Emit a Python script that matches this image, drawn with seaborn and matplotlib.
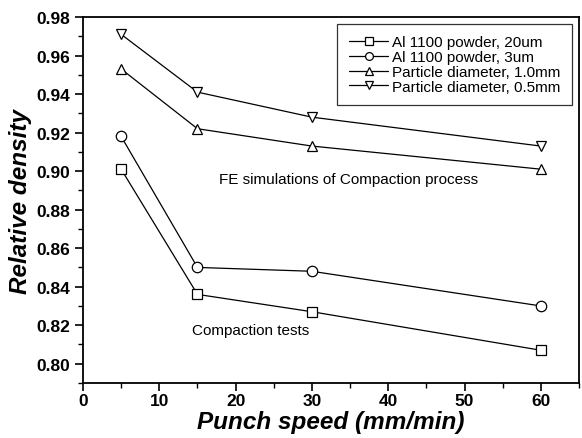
import seaborn as sns
import matplotlib.pyplot as plt
import pandas as pd
from matplotlib.ticker import MultipleLocator

# punch speed (mm/min)
speeds = [5, 15, 30, 60]

# relative density per series
powder_20um = [0.901, 0.836, 0.827, 0.807]
powder_3um = [0.918, 0.850, 0.848, 0.830]
particle_10mm = [0.953, 0.922, 0.913, 0.901]
particle_05mm = [0.971, 0.941, 0.928, 0.913]

series_names = ['Al 1100 powder, 20um', 'Al 1100 powder, 3um',
                'Particle diameter, 1.0mm', 'Particle diameter, 0.5mm']
series_values = [powder_20um, powder_3um, particle_10mm, particle_05mm]
markers = ['s', 'o', '^', 'v']

rows = []
for name, vals in zip(series_names, series_values):
    for s, v in zip(speeds, vals):
        rows.append({'Series': name, 'Speed': s, 'Density': v})
df = pd.DataFrame(rows)

sns.set_style('ticks', {'axes.edgecolor': 'black', 'text.color': 'black',
                        'axes.labelcolor': 'black', 'xtick.color': 'black',
                        'ytick.color': 'black'})
plt.rcParams['font.family'] = ['Liberation Sans', 'DejaVu Sans']

fig = plt.figure(figsize=(5.82, 4.39), dpi=100)
ax = fig.add_axes([83 / 582, 55 / 439, 496 / 582, 366 / 439])

sns.lineplot(data=df, x='Speed', y='Density', hue='Series', style='Series',
             markers=markers, dashes=False, palette=['black'] * 4,
             markersize=7.5, markerfacecolor='white', markeredgecolor='black',
             markeredgewidth=0.9, linewidth=0.9, ax=ax)

ax.set_xlim(0, 65)
ax.set_ylim(0.79, 0.98)
ax.xaxis.set_major_locator(MultipleLocator(10))
ax.xaxis.set_minor_locator(MultipleLocator(5))
ax.yaxis.set_major_locator(MultipleLocator(0.02))
ax.yaxis.set_minor_locator(MultipleLocator(0.01))
ax.yaxis.set_major_formatter(plt.FormatStrFormatter('%.2f'))
ax.tick_params(which='major', direction='out', length=5.5, width=1.2,
               labelsize=12.5)
ax.tick_params(axis='x', which='major', pad=2)
ax.tick_params(which='minor', direction='out', length=3.5, width=1.0)
for lab in ax.get_xticklabels() + ax.get_yticklabels():
    lab.set_fontweight('bold')
for sp in ax.spines.values():
    sp.set_linewidth(1.3)

ax.set_xlabel('Punch speed (mm/min)', fontsize=17.5, fontweight='bold',
              fontstyle='italic', labelpad=1)
ax.set_ylabel('Relative density', fontsize=17.5, fontweight='bold',
              fontstyle='italic', labelpad=3)

ax.text(17.8, 0.894, 'FE simulations of Compaction process', fontsize=11)
ax.text(14.3, 0.8152, 'Compaction tests', fontsize=11)

leg = ax.legend(loc='upper right', bbox_to_anchor=(0.986, 0.981),
                frameon=True, fancybox=False, edgecolor='black', fontsize=11,
                handlelength=2.6, handletextpad=0.25, borderpad=0.75,
                labelspacing=0.05, markerscale=0.75, borderaxespad=0)
leg.get_frame().set_linewidth(0.9)

fig.savefig('out.png', dpi=100)
